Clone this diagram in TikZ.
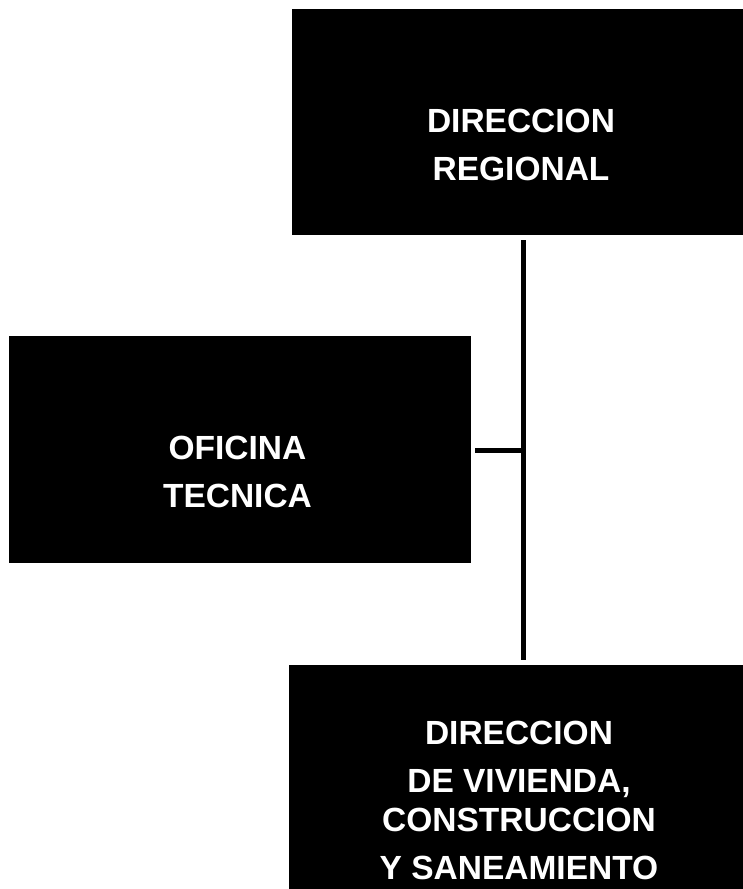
\documentclass[tikz,border=0pt]{standalone}
\usepackage{fontspec}
\setmainfont{Liberation Sans}
\tikzset{
  box/.style={draw=black, fill=black, outer sep=0pt, inner sep=0pt},
  boxtext/.style={text=white, font=\bfseries\fontsize{33.5}{48}\selectfont, align=center, anchor=base, inner sep=0pt},
  link/.style={line width=5pt, black}
}
\begin{document}
\begin{tikzpicture}[x=1pt, y=-1pt]
        \useasboundingbox (0,0) rectangle (743,889);
        % boxes
        \node[box, minimum width=451pt, minimum height=225pt] (dirreg) at (517.5,121.5) {};
        \node[box, minimum width=461pt, minimum height=226pt] (ofitec) at (239.5,449) {};
        \node[box, minimum width=454pt, minimum height=224pt] (dirviv) at (516,777) {};
        % texts
        \node[boxtext] (dirregtxt) at (521,180) {DIRECCION\\REGIONAL};
        \node[boxtext] (ofitectxt) at (237.5,507) {OFICINA\\TECNICA};
        \node[boxtext] (dirvivtxt) at (519,879) {DIRECCION\\DE VIVIENDA,\\[-9pt]CONSTRUCCION\\Y SANEAMIENTO};
        % lines
        \coordinate (spine) at (523,450);
        \draw[link, shorten <=6pt, shorten >=5pt] (dirreg.south -| spine) -- (dirviv.north -| spine);
        \draw[link, shorten <=5pt] (ofitec.east |- spine) -- (spine);
\end{tikzpicture}
\end{document}
